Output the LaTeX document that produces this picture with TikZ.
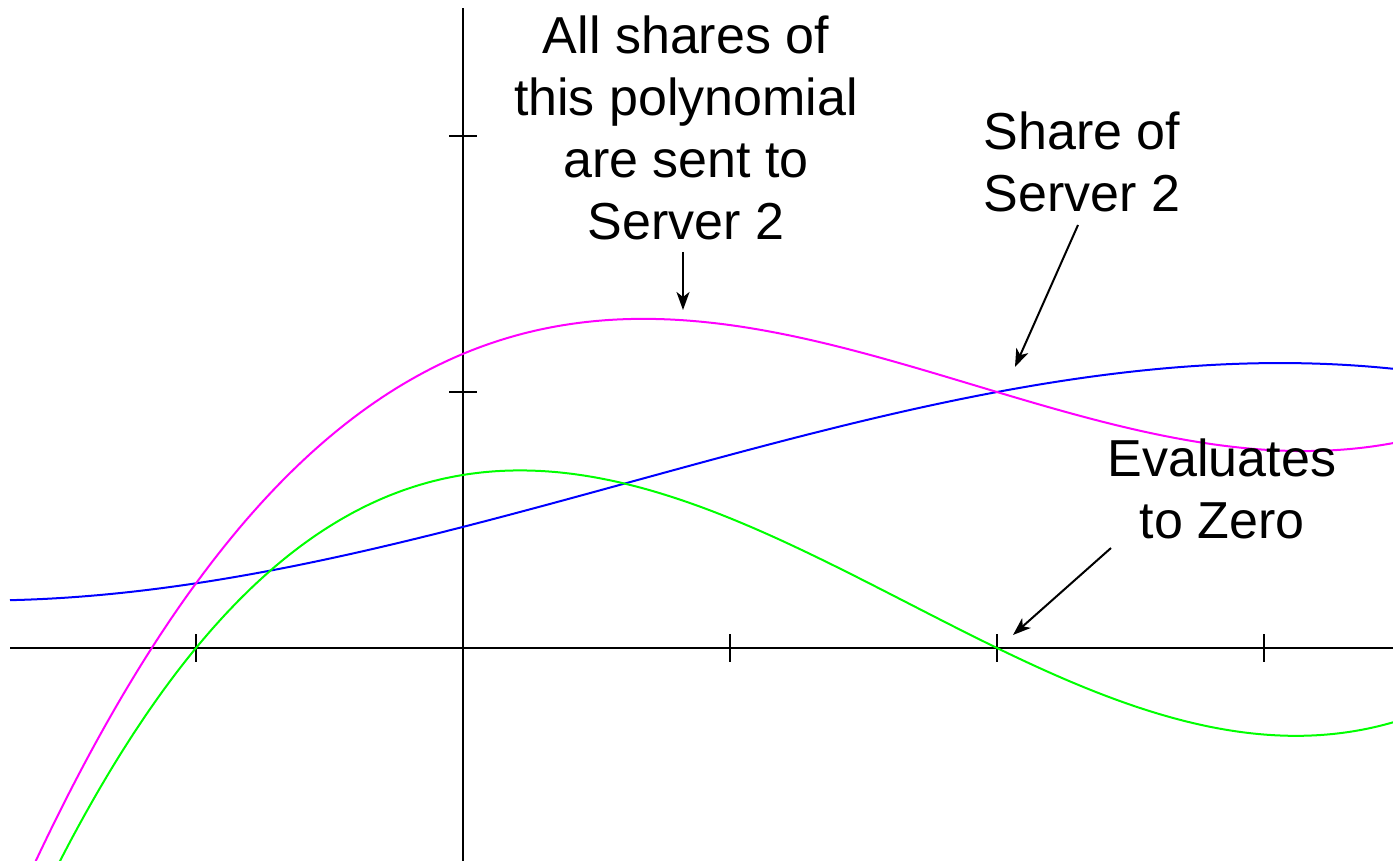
\documentclass[tikz,border=0pt]{standalone}
\usepackage{fontspec}
\setmainfont{Liberation Sans}
\usetikzlibrary{arrows.meta}

\definecolor{curvegreen}{RGB}{0,255,0}
\definecolor{curveblue}{RGB}{0,0,255}
\definecolor{curvemagenta}{RGB}{255,0,255}

\begin{document}
\begin{tikzpicture}[
    x=133.5pt, y=128pt,
    axisline/.style={line width=1pt, black},
    tickline/.style={line width=1pt, black},
    curve/.style={line width=1pt, smooth, samples=300},
    label/.style={font={\fontsize{26pt}{31pt}\selectfont}, align=center, inner sep=0pt, anchor=north},
    pointer/.style={line width=1pt, -{Stealth[length=9pt,width=6.5pt,inset=2.5pt]}},
    declare function={
      g(\x) = 0.0845*(\x+1)*(\x-2)*(\x-4);
      b(\x) = -0.01616*(\x*\x*\x - 1.89*\x*\x - 16.524*\x) + 0.473;
    }
  ]
  % canvas
  \useasboundingbox (-1.73408,-0.83203) rectangle (3.48315,2.53125);

  \begin{scope}
    \clip (-1.73408,-0.83203) rectangle (3.48315,2.53125);
    % axes
    \draw[axisline] (-1.6966,0) -- (3.49,0);
    \draw[axisline] (0,-0.84) -- (0,2.5);
    % ticks on the x axis
    \foreach \t in {-1,1,2,3}
      \draw[tickline] (\t,-0.0547) -- (\t,0.0547);
    % ticks on the y axis
    \foreach \t in {1,2}
      \draw[tickline] (-0.0524,\t) -- (0.0524,\t);

    % the three polynomials
    \draw[curve, curveblue] plot[domain=-1.6966:3.49] (\x,{b(\x)});
    \draw[curve, curvemagenta] plot[domain=-1.75:3.49] (\x,{g(\x)+b(\x)});
    \draw[curve, curvegreen] plot[domain=-1.62:3.49] (\x,{g(\x)});
  \end{scope}

  % labels
  \node[label] (poly) at (0.8352,2.4727) {All shares of\\this polynomial\\are sent to\\Server 2};
  \node[label] (share) at (2.3184,2.0977) {Share of\\Server 2};
  \node[label] (zero) at (2.8427,0.8203) {Evaluates\\to Zero};

  % pointer ends
  \coordinate (polyfrom) at (0.8240,1.5469);
  \coordinate (polyto) at (0.8240,1.3203);
  \coordinate (sharefrom) at (2.3034,1.6523);
  \coordinate (shareto) at (2.0674,1.0977);
  \coordinate (zerofrom) at (2.4270,0.3906);
  \coordinate (zeroto) at (2.0599,0.0508);

  \draw[pointer] (polyfrom) -- (polyto);
  \draw[pointer] (sharefrom) -- (shareto);
  \draw[pointer] (zerofrom) -- (zeroto);
\end{tikzpicture}
\end{document}
